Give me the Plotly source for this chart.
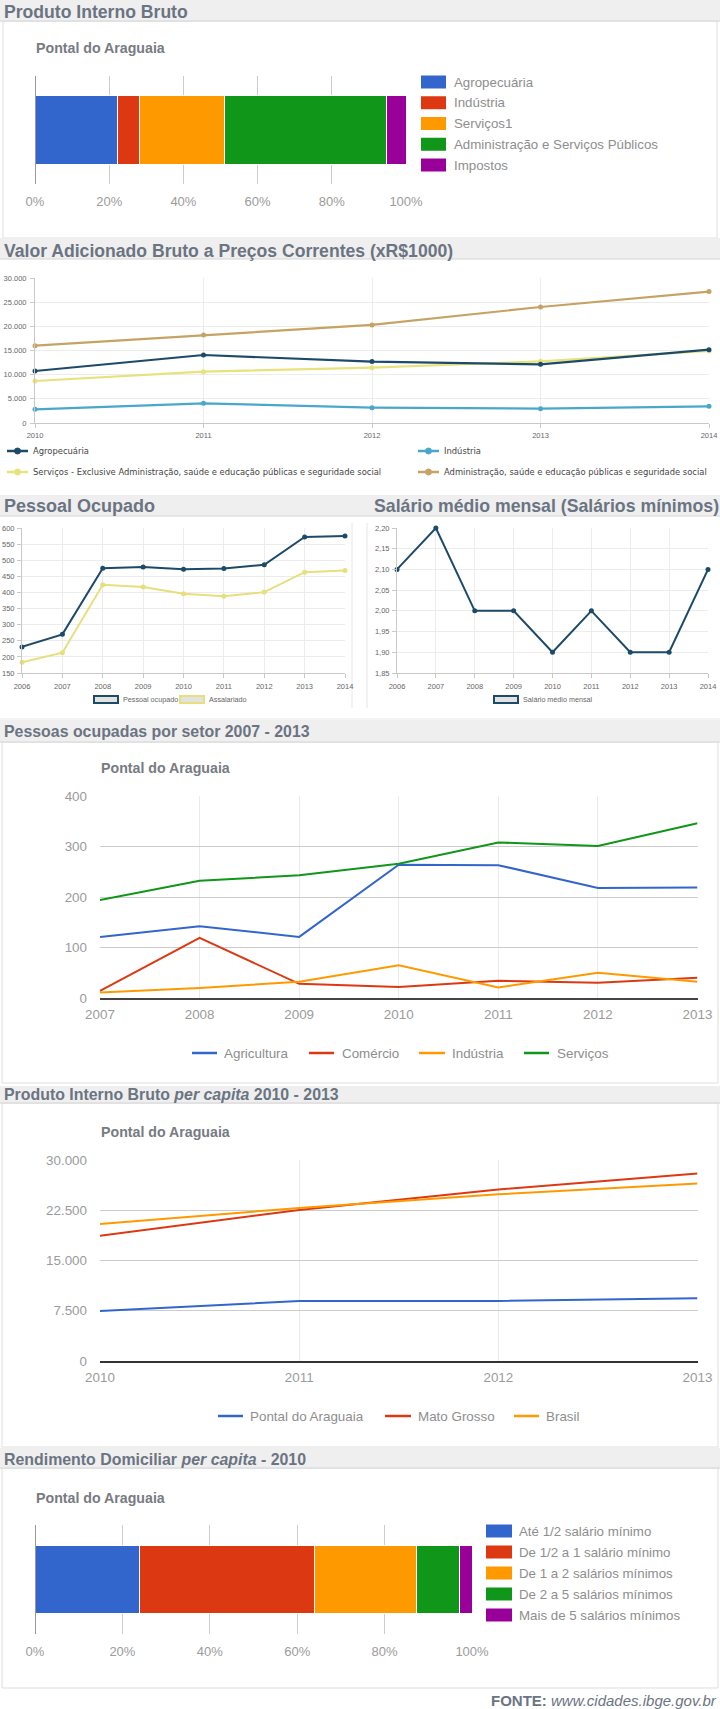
import plotly.graph_objects as go

W, H = 720, 1709
FONT = "Liberation Sans, Arial, Helvetica, sans-serif"

# ---------------- data ----------------
pib_setores = ["Agropecuária", "Indústria", "Serviços1",
               "Administração e Serviços Públicos", "Impostos"]
pib_participacao = [0.223, 0.059, 0.229, 0.437, 0.052]

vab_anos = [2010, 2011, 2012, 2013, 2014]
vab_nomes = ["Agropecuária", "Indústria",
             "Serviços - Exclusive Administração, saúde e educação públicas e seguridade social",
             "Administração, saúde e educação públicas e seguridade social"]
vab_agropecuaria = [10760, 14070, 12700, 12140, 15170]
vab_industria = [2830, 4070, 3170, 2970, 3450]
vab_servicos = [8690, 10620, 11450, 12760, 14900]
vab_administracao = [16000, 18200, 20300, 24000, 27200]

po_anos = [2006, 2007, 2008, 2009, 2010, 2011, 2012, 2013, 2014]
po_nomes = ["Pessoal ocupado", "Assalariado"]
po_pessoal_ocupado = [231, 270, 475, 479, 472, 474, 486, 572, 575]
po_assalariado = [183, 213, 424, 417, 396, 388, 401, 463, 468]
salario_nome = "Salário médio mensal"
salario_medio = [2.10, 2.20, 2.00, 2.00, 1.90, 2.00, 1.90, 1.90, 2.10]

setor_anos = [2007, 2008, 2009, 2010, 2011, 2012, 2013]
setor_nomes = ["Agricultura", "Comércio", "Indústria", "Serviços"]
setor_agricultura = [121, 142, 121, 264, 263, 218, 219]
setor_comercio = [14, 119, 28, 22, 34, 30, 40]
setor_industria = [11, 20, 32, 65, 21, 50, 32]
setor_servicos = [194, 232, 243, 266, 308, 301, 346]

pibpc_anos = [2010, 2011, 2012, 2013]
pibpc_nomes = ["Pontal do Araguaia", "Mato Grosso", "Brasil"]
pibpc_pontal = [7460, 8960, 8960, 9350]
pibpc_mato_grosso = [18700, 22540, 25600, 28000]
pibpc_brasil = [20450, 22840, 24880, 26500]

rend_faixas = ["Até 1/2 salário mínimo", "De 1/2 a 1 salário mínimo",
               "De 1 a 2 salários mínimos", "De 2 a 5 salários mínimos",
               "Mais de 5 salários mínimos"]
rend_participacao = [0.238, 0.401, 0.235, 0.098, 0.028]

municipio = "Pontal do Araguaia"

# ---------------- styles ----------------
GOOGLE = ["#3366cc", "#dc3912", "#ff9900", "#109618", "#990099"]
VAB_COLORS = ["#1d4a68", "#4aa7cc", "#e8e27c", "#c6a263"]
PO_COLORS = ["#1d4a68", "#e6df7c"]
HEAD_COLOR = "#6b7482"
SUB_COLOR = "#777b82"
TICK_G = "#9b9b9b"
LEG_G = "#8e8e8e"


def X(p):
    return p / W


def Y(p):
    return 1 - p / H


fig = go.Figure()
shapes = []
annotations = []


def text(x, y, s, size, color, anchor="left", family=FONT):
    annotations.append(dict(xref="paper", yref="paper", x=X(x), y=Y(y),
                            xanchor=anchor, yanchor="middle", text=s, showarrow=False,
                            font=dict(family=family, size=size, color=color)))


def rect(x0, y0, x1, y1, fill, line_color=None, lw=0, layer="above"):
    shapes.append(dict(type="rect", xref="paper", yref="paper",
                       x0=X(x0), x1=X(x1), y0=Y(y1), y1=Y(y0), fillcolor=fill,
                       line=dict(color=line_color or fill, width=lw), layer=layer))


def line(x0, y0, x1, y1, color, lw=1, layer="above"):
    shapes.append(dict(type="line", xref="paper", yref="paper",
                       x0=X(x0), x1=X(x1), y0=Y(y0), y1=Y(y1),
                       line=dict(color=color, width=lw), layer=layer))


def header(y0, y1, s, size, ty):
    rect(0, y0, 720, y1, "#efefef", layer="below")
    line(0, y1, 720, y1, "#d4d4d4", 1, layer="below")
    text(2, ty, "<b>" + s + "</b>", size, HEAD_COLOR)


# panels
rect(3, 21, 717, 238, "white", "#dedede", 1, layer="below")
rect(2, 742, 718, 1083, "white", "#dedede", 1, layer="below")
rect(2, 1103, 718, 1447, "white", "#dedede", 1, layer="below")
rect(2, 1468, 718, 1688, "white", "#dedede", 1, layer="below")
line(352, 523, 352, 708, "#e6e6e6", 1, layer="below")
line(367, 523, 367, 708, "#e6e6e6", 1, layer="below")
line(0, 719, 720, 719, "#e9e9e9", 1, layer="below")

header(0, 21, "Produto Interno Bruto", 17.6, 12)
header(238, 259, "Valor Adicionado Bruto a Preços Correntes (xR$1000)", 17.6, 251)
header(495, 516, "Pessoal Ocupado", 18, 506)
text(372, 506, "<b>Salário médio mensal (Salários mínimos)</b>", 17.7, HEAD_COLOR)
header(720, 742, "Pessoas ocupadas por setor 2007 - 2013", 15.9, 731)
header(1086, 1103, "Produto Interno Bruto <i>per capita</i> 2010 - 2013", 15.9, 1094)
header(1448, 1468, "Rendimento Domiciliar <i>per capita</i> - 2010", 15.9, 1459)

for (sx, sy) in [(34, 48), (99, 768), (99, 1132), (34, 1498)]:
    text(sx, sy, "<b>" + municipio + "</b>", 14.2, SUB_COLOR)

text(719, 1700, "<b>FONTE:</b> <i>www.cidades.ibge.gov.br</i>", 15, HEAD_COLOR, anchor="right")

# ---------------- chart 1: PIB stacked bar ----------------
for i, (nome, v) in enumerate(zip(pib_setores, pib_participacao)):
    fig.add_trace(go.Bar(x=[v], y=[municipio], orientation="h", name=nome, width=0.63,
                         marker=dict(color=GOOGLE[i], line=dict(color="white", width=1)),
                         xaxis="x", yaxis="y"))
    cy = 82 + i * 20.75
    rect(421, cy - 6.5, 446, cy + 6.5, GOOGLE[i])
    text(452, cy, nome, 13.3, LEG_G)

# ---------------- chart 7: Rendimento stacked bar ----------------
for i, (nome, v) in enumerate(zip(rend_faixas, rend_participacao)):
    fig.add_trace(go.Bar(x=[v], y=[municipio], orientation="h", name=nome, width=0.624,
                         marker=dict(color=GOOGLE[i], line=dict(color="white", width=1)),
                         xaxis="x7", yaxis="y7"))
    cy = 1531 + i * 21
    rect(486, cy - 6.5, 512, cy + 6.5, GOOGLE[i])
    text(517, cy, nome, 13.3, LEG_G)

for ax in ["x", "x7"]:
    shapes.append(dict(type="line", xref=ax, yref=("y" if ax == "x" else "y7") + " domain",
                       x0=0, x1=0, y0=0, y1=1, line=dict(color="#333333", width=1)))

# ---------------- chart 2: VAB lines ----------------
vab_vals = [vab_agropecuaria, vab_industria, vab_servicos, vab_administracao]
for i in [3, 2, 1, 0]:
    fig.add_trace(go.Scatter(x=vab_anos, y=vab_vals[i], name=vab_nomes[i], mode="lines+markers",
                             line=dict(color=VAB_COLORS[i], width=2.2),
                             marker=dict(size=5, color=VAB_COLORS[i]),
                             cliponaxis=False, xaxis="x2", yaxis="y2"))
vab_leg = [(7, 451), (418, 451), (7, 472), (418, 472)]
for i, (lx, ly) in enumerate(vab_leg):
    line(lx, ly, lx + 21, ly, VAB_COLORS[i], 2.5)
    shapes.append(dict(type="circle", xref="paper", yref="paper",
                       x0=X(lx + 7.5), x1=X(lx + 13.5), y0=Y(ly + 3), y1=Y(ly - 3),
                       fillcolor=VAB_COLORS[i], line=dict(color=VAB_COLORS[i], width=1)))
    text(lx + 24, ly, vab_nomes[i], 8.4, "#444444", family="DejaVu Sans, Verdana, sans-serif")

# ---------------- chart 3: Pessoal ocupado ----------------
po_vals = [po_pessoal_ocupado, po_assalariado]
for i in [1, 0]:
    fig.add_trace(go.Scatter(x=po_anos, y=po_vals[i], name=po_nomes[i], mode="lines+markers",
                             line=dict(color=PO_COLORS[i], width=2),
                             marker=dict(size=5, color=PO_COLORS[i]),
                             cliponaxis=False, xaxis="x3", yaxis="y3"))
for i, (bx, tx) in enumerate([(94, 121), (180, 207)]):
    rect(bx, 696, bx + 24, 703, "#e2e2e2", PO_COLORS[i], 2)
    text(tx, 699.5, po_nomes[i], 7.2, "#666666")

# ---------------- chart 4: Salário médio ----------------
fig.add_trace(go.Scatter(x=po_anos, y=salario_medio, name=salario_nome, mode="lines+markers",
                         line=dict(color=PO_COLORS[0], width=2),
                         marker=dict(size=5, color=PO_COLORS[0]),
                         cliponaxis=False, xaxis="x4", yaxis="y4"))
rect(494, 696, 518, 703, "#e2e2e2", PO_COLORS[0], 2)
text(521, 699.5, salario_nome, 7.2, "#666666")

# ---------------- chart 5: Pessoas ocupadas por setor ----------------
setor_vals = [setor_agricultura, setor_comercio, setor_industria, setor_servicos]
for i in range(4):
    fig.add_trace(go.Scatter(x=setor_anos, y=setor_vals[i], name=setor_nomes[i], mode="lines",
                             line=dict(color=GOOGLE[i], width=2),
                             xaxis="x5", yaxis="y5"))
for i, (l0, l1, tx) in enumerate([(192, 217, 222), (309, 334, 340), (419, 445, 450), (524, 549, 555)]):
    line(l0, 1053, l1, 1053, GOOGLE[i], 2.5)
    text(tx, 1053, setor_nomes[i], 13.4, LEG_G)

# ---------------- chart 6: PIB per capita ----------------
pibpc_vals = [pibpc_pontal, pibpc_mato_grosso, pibpc_brasil]
for i in range(3):
    fig.add_trace(go.Scatter(x=pibpc_anos, y=pibpc_vals[i], name=pibpc_nomes[i], mode="lines",
                             line=dict(color=GOOGLE[i], width=2),
                             xaxis="x6", yaxis="y6"))
for i, (l0, l1, tx) in enumerate([(218, 243, 248), (385, 411, 416), (514, 539, 544)]):
    line(l0, 1416, l1, 1416, GOOGLE[i], 2.5)
    text(tx, 1416, pibpc_nomes[i], 13.4, LEG_G)


# ---------------- axes ----------------
def dom(a, b, vertical=False):
    if vertical:
        return [Y(b), Y(a)]
    return [X(a), X(b)]


google_pct_x = dict(range=[0, 1], tickvals=[0, 0.2, 0.4, 0.6, 0.8, 1.0], tickformat=".0%",
                    showgrid=True, gridcolor="#cccccc", zeroline=False, showline=False,
                    ticks="", ticklabelstandoff=8, automargin=False,
                    tickfont=dict(family=FONT, size=13, color=TICK_G), fixedrange=True)
cat_y = dict(type="category", showticklabels=False, showgrid=False, zeroline=False,
             range=[-0.5, 0.5], fixedrange=True, automargin=False)

cj_common = dict(showgrid=True, gridcolor="#ececec", showline=True, linecolor="#c9c9c9",
                 ticks="outside", ticklen=4, tickcolor="#c9c9c9", zeroline=False,
                 automargin=False,
                 tickfont=dict(family=FONT, size=7.5, color="#666666"))

g_common = dict(tickfont=dict(family=FONT, size=13.4, color=TICK_G), zeroline=False,
                automargin=False)

layout_axes = dict(
    xaxis=dict(domain=dom(35, 406), anchor="y", **google_pct_x),
    yaxis=dict(domain=dom(76, 184, True), anchor="x", **cat_y),
    xaxis7=dict(domain=dom(35, 472), anchor="y7", **google_pct_x),
    yaxis7=dict(domain=dom(1525, 1634, True), anchor="x7", **cat_y),

    xaxis2=dict(domain=dom(35, 709), anchor="y2", range=[2010, 2014], tickvals=vab_anos,
                tickformat="d", ticklabelstandoff=1, **cj_common),
    yaxis2=dict(domain=dom(278, 423, True), anchor="x2", range=[0, 30000], dtick=5000,
                tickformat=",d", ticklabelstandoff=2, **cj_common),

    xaxis3=dict(domain=dom(22, 345), anchor="y3", range=[2006, 2014], tickvals=po_anos,
                tickformat="d", ticklabelstandoff=2, **cj_common),
    yaxis3=dict(domain=dom(528, 673, True), anchor="x3", range=[150, 600], dtick=50,
                tickformat="d", ticklabelstandoff=1, **cj_common),

    xaxis4=dict(domain=dom(397, 708), anchor="y4", range=[2006, 2014], tickvals=po_anos,
                tickformat="d", ticklabelstandoff=2, **cj_common),
    yaxis4=dict(domain=dom(528, 673, True), anchor="x4", range=[1.85, 2.20], dtick=0.05,
                tickformat=".2f", ticklabelstandoff=1, **cj_common),

    xaxis5=dict(domain=dom(100, 697.5), anchor="y5", range=[2007, 2013], tickvals=setor_anos,
                tickformat="d", showgrid=True, gridcolor="#ebebeb", showline=True,
                linecolor="#444444", linewidth=2, ticks="", ticklabelstandoff=3, **g_common),
    yaxis5=dict(domain=dom(796, 998, True), anchor="x5", range=[0, 400], dtick=100,
                tickformat="d", showgrid=True, gridcolor="#cccccc", showline=False,
                ticks="", ticklabelstandoff=12, **g_common),

    xaxis6=dict(domain=dom(100, 697.5), anchor="y6", range=[2010, 2013], tickvals=pibpc_anos,
                tickformat="d", showgrid=True, gridcolor="#ebebeb", showline=True,
                linecolor="#333333", linewidth=2, ticks="", ticklabelstandoff=3, **g_common),
    yaxis6=dict(domain=dom(1160, 1361, True), anchor="x6", range=[0, 30000], dtick=7500,
                tickformat=",d", showgrid=True, gridcolor="#cccccc", showline=False,
                ticks="", ticklabelstandoff=12, **g_common),
)

fig.update_layout(
    width=W, height=H, autosize=False,
    margin=dict(l=0, r=0, t=0, b=0, pad=0, autoexpand=False),
    paper_bgcolor="white", plot_bgcolor="rgba(0,0,0,0)",
    showlegend=False, barmode="stack", separators=",.",
    font=dict(family=FONT),
    shapes=shapes, annotations=annotations,
    **layout_axes,
)

fig.write_html("out.html")
